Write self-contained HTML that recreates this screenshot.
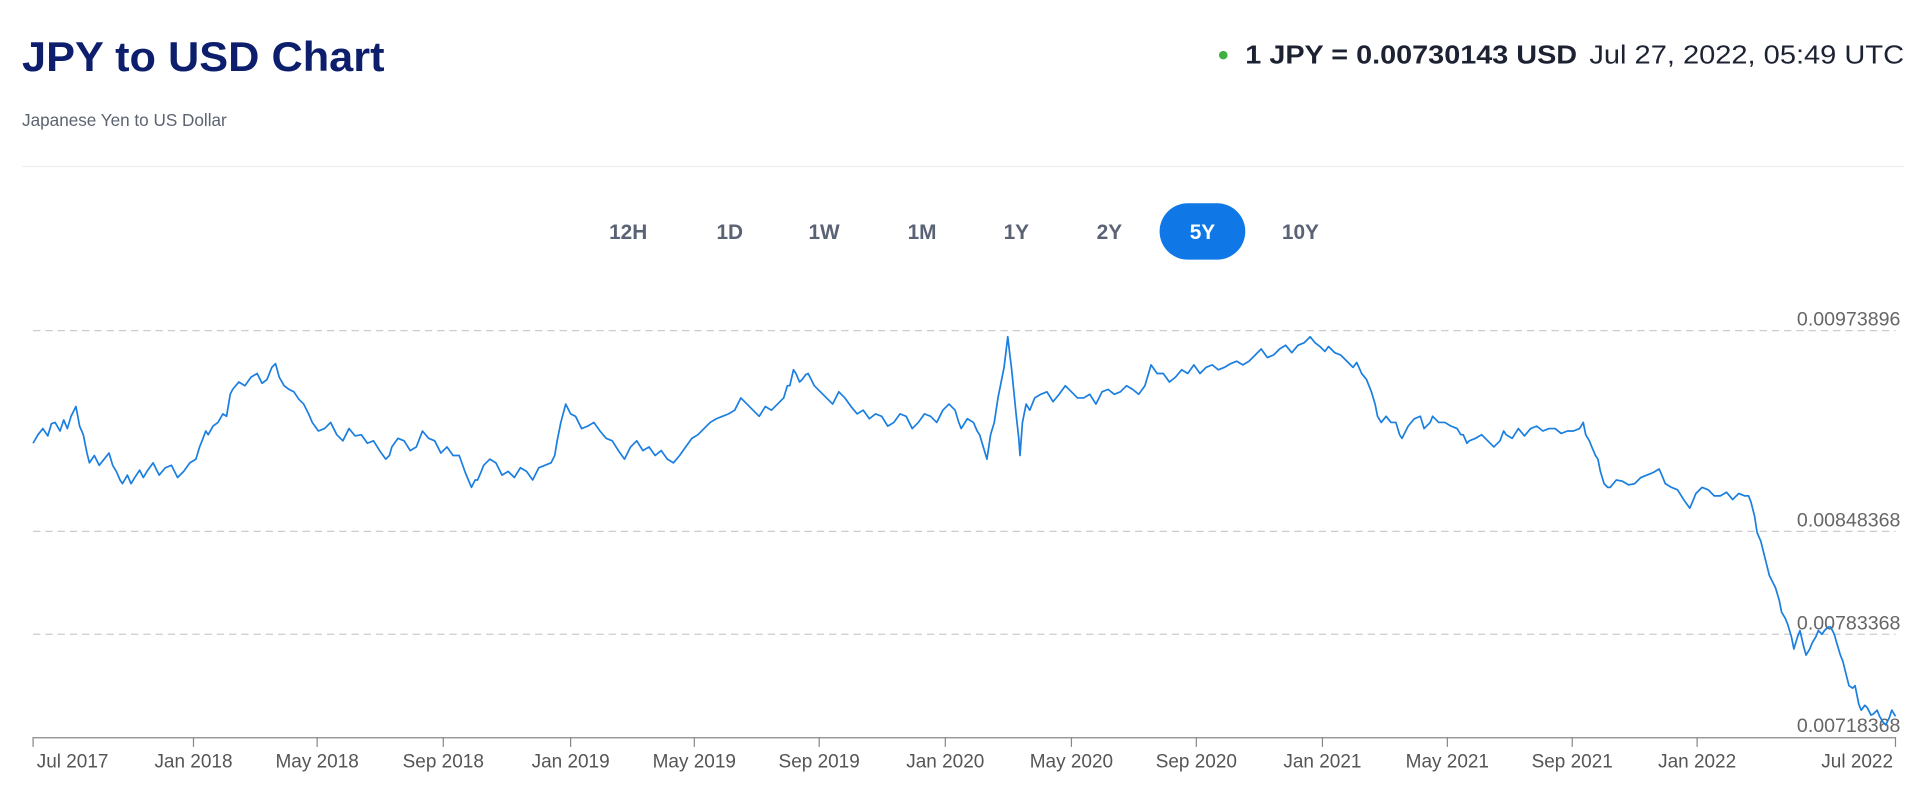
<!DOCTYPE html>
<html><head><meta charset="utf-8"><style>
html,body{margin:0;padding:0;background:#fff;}
svg{display:block;font-family:"Liberation Sans",Arial,sans-serif;}
</style></head><body>
<svg width="1920" height="785" viewBox="0 0 1568 641.1" xmlns="http://www.w3.org/2000/svg">
<rect width="1568" height="642" fill="#fff"/>
<text x="18" y="58" font-size="34" font-weight="bold" fill="#0d1e6c" textLength="296" lengthAdjust="spacingAndGlyphs">JPY to USD Chart</text>
<text x="18" y="103" font-size="14" fill="#5c6370">Japanese Yen to US Dollar</text>
<line x1="18" y1="136" x2="1555" y2="136" stroke="#eeeeee" stroke-width="1"/>
<circle cx="999" cy="45" r="3.5" fill="#3cb043"/>
<text x="1017" y="52" font-size="21" font-weight="bold" fill="#1d2233" textLength="271" lengthAdjust="spacingAndGlyphs">1 JPY = 0.00730143 USD</text>
<text x="1298" y="52" font-size="21" fill="#1d2233" textLength="257" lengthAdjust="spacingAndGlyphs">Jul 27, 2022, 05:49 UTC</text>
<g font-size="17" font-weight="bold" fill="#5a6275" text-anchor="middle">
<text x="513" y="195">12H</text><text x="596" y="195">1D</text><text x="673" y="195">1W</text><text x="753" y="195">1M</text><text x="830" y="195">1Y</text><text x="906" y="195">2Y</text>
<rect x="947" y="166" width="70" height="46" rx="23" fill="#0f78e6"/>
<text x="982" y="195" fill="#fff">5Y</text><text x="1062" y="195">10Y</text>
</g>
<g stroke="#cccccc" stroke-width="1" stroke-dasharray="6 4">
<line x1="27" y1="270" x2="1548" y2="270"/><line x1="27" y1="434" x2="1548" y2="434"/><line x1="27" y1="518" x2="1548" y2="518"/>
</g>
<g font-size="16" fill="#666" text-anchor="end">
<text x="1552" y="266">0.00973896</text><text x="1552" y="430">0.00848368</text><text x="1552" y="514">0.00783368</text><text x="1552" y="598">0.00718368</text>
</g>
<polyline fill="none" stroke="#1a7fe0" stroke-width="1.4" stroke-linejoin="round" points="27,362 31,355 35,350 39,356 42,346 45,345 49,352 52,343 55,350 58,340 62,332 65,348 68,355 71,370 73,378 77,372 81,380 85,375 89,370 92,380 95,385 98,392 100,395 104,388 107,395 110,390 114,384 117,390 120,385 125,378 130,388 135,382 140,380 145,390 150,385 155,378 160,375 163,365 165,360 168,352 170,355 174,348 178,345 182,338 185,340 188,322 190,318 195,312 200,315 205,308 210,305 214,313 218,310 222,300 225,297 228,308 232,315 236,318 240,320 244,326 248,330 252,338 255,345 260,352 265,350 270,345 275,355 280,360 285,350 290,356 295,355 300,362 305,360 310,368 315,375 318,372 320,365 325,358 330,360 335,368 340,365 345,352 350,358 355,360 360,370 365,365 370,372 375,372 380,386 385,398 388,392 390,392 393,385 395,380 400,375 405,378 410,388 415,385 420,390 425,382 430,385 435,392 440,382 445,380 450,378 453,372 455,360 458,345 462,330 466,338 470,340 475,350 480,348 485,345 490,352 495,358 500,360 505,368 510,375 515,365 520,360 525,368 530,365 535,372 540,368 545,375 550,378 555,372 560,365 565,358 570,355 575,350 580,345 585,342 590,340 595,338 600,335 605,325 610,330 615,335 620,340 625,332 630,335 635,330 640,325 643,315 645,315 648,302 650,305 653,312 655,310 658,306 660,305 665,315 670,320 675,325 680,330 685,320 690,325 695,332 700,338 705,335 710,342 715,338 720,340 725,348 730,345 735,338 740,340 745,350 750,345 755,338 760,340 765,345 770,335 775,330 780,335 783,345 785,350 790,342 795,345 798,352 800,355 803,365 806,375 809,355 812,345 815,325 818,310 820,300 823,275 825,292 826,300 828,320 830,340 832,358 833,372 835,345 838,330 841,335 845,325 850,322 855,320 860,328 865,322 870,315 875,320 880,325 885,325 890,322 895,330 900,320 905,318 910,322 915,320 920,315 925,318 930,322 935,315 938,305 940,298 945,305 950,305 955,312 960,308 965,302 970,305 975,298 980,305 985,300 990,298 995,302 1000,300 1005,297 1010,295 1015,298 1020,295 1025,290 1030,285 1035,292 1040,290 1045,285 1050,282 1055,288 1060,282 1065,280 1070,275 1074,280 1078,283 1082,287 1085,283 1090,288 1095,290 1100,295 1105,300 1108,296 1112,305 1116,310 1120,320 1123,330 1125,340 1128,345 1132,340 1136,345 1140,345 1143,355 1145,358 1148,352 1150,348 1155,342 1160,340 1163,350 1168,345 1170,340 1175,345 1180,345 1185,348 1190,350 1193,355 1195,355 1198,362 1200,360 1205,358 1210,355 1215,360 1220,365 1225,360 1228,352 1230,355 1235,358 1240,350 1245,356 1250,350 1255,348 1260,352 1265,350 1270,350 1275,354 1280,352 1285,352 1290,350 1293,345 1295,355 1298,360 1300,365 1303,372 1305,375 1307,385 1310,395 1313,398 1315,398 1320,392 1325,393 1330,396 1335,395 1340,390 1345,388 1350,386 1355,383 1358,390 1360,395 1365,398 1370,400 1375,408 1380,415 1383,408 1385,403 1390,398 1395,400 1400,405 1405,405 1410,402 1415,408 1420,403 1425,405 1428,405 1430,410 1433,422 1435,435 1438,442 1440,450 1443,462 1445,470 1448,476 1450,480 1453,490 1455,500 1458,505 1460,510 1463,520 1465,530 1468,520 1470,515 1473,528 1475,535 1478,530 1480,525 1483,520 1485,515 1488,518 1490,515 1493,512 1495,512 1498,518 1500,525 1503,535 1505,540 1508,552 1510,560 1513,562 1515,560 1518,575 1520,580 1523,576 1525,578 1528,584 1530,583 1533,580 1535,585 1538,590 1540,592 1543,586 1545,580 1548,585"/>
<line x1="27" y1="602.5" x2="1548" y2="602.5" stroke="#888" stroke-width="1"/>
<g stroke="#888" stroke-width="1">
<line x1="27" y1="602" x2="27" y2="610"/><line x1="158" y1="602" x2="158" y2="610"/><line x1="259" y1="602" x2="259" y2="610"/><line x1="362" y1="602" x2="362" y2="610"/><line x1="466" y1="602" x2="466" y2="610"/><line x1="567" y1="602" x2="567" y2="610"/><line x1="669" y1="602" x2="669" y2="610"/><line x1="772" y1="602" x2="772" y2="610"/><line x1="875" y1="602" x2="875" y2="610"/><line x1="977" y1="602" x2="977" y2="610"/><line x1="1080" y1="602" x2="1080" y2="610"/><line x1="1182" y1="602" x2="1182" y2="610"/><line x1="1284" y1="602" x2="1284" y2="610"/><line x1="1386" y1="602" x2="1386" y2="610"/><line x1="1548" y1="602" x2="1548" y2="610"/>
</g>
<g font-size="15.5" fill="#555" text-anchor="middle">
<text x="30" y="627" text-anchor="start">Jul 2017</text><text x="158" y="627">Jan 2018</text><text x="259" y="627">May 2018</text><text x="362" y="627">Sep 2018</text><text x="466" y="627">Jan 2019</text><text x="567" y="627">May 2019</text><text x="669" y="627">Sep 2019</text><text x="772" y="627">Jan 2020</text><text x="875" y="627">May 2020</text><text x="977" y="627">Sep 2020</text><text x="1080" y="627">Jan 2021</text><text x="1182" y="627">May 2021</text><text x="1284" y="627">Sep 2021</text><text x="1386" y="627">Jan 2022</text><text x="1546" y="627" text-anchor="end">Jul 2022</text>
</g>
</svg>
</body></html>
